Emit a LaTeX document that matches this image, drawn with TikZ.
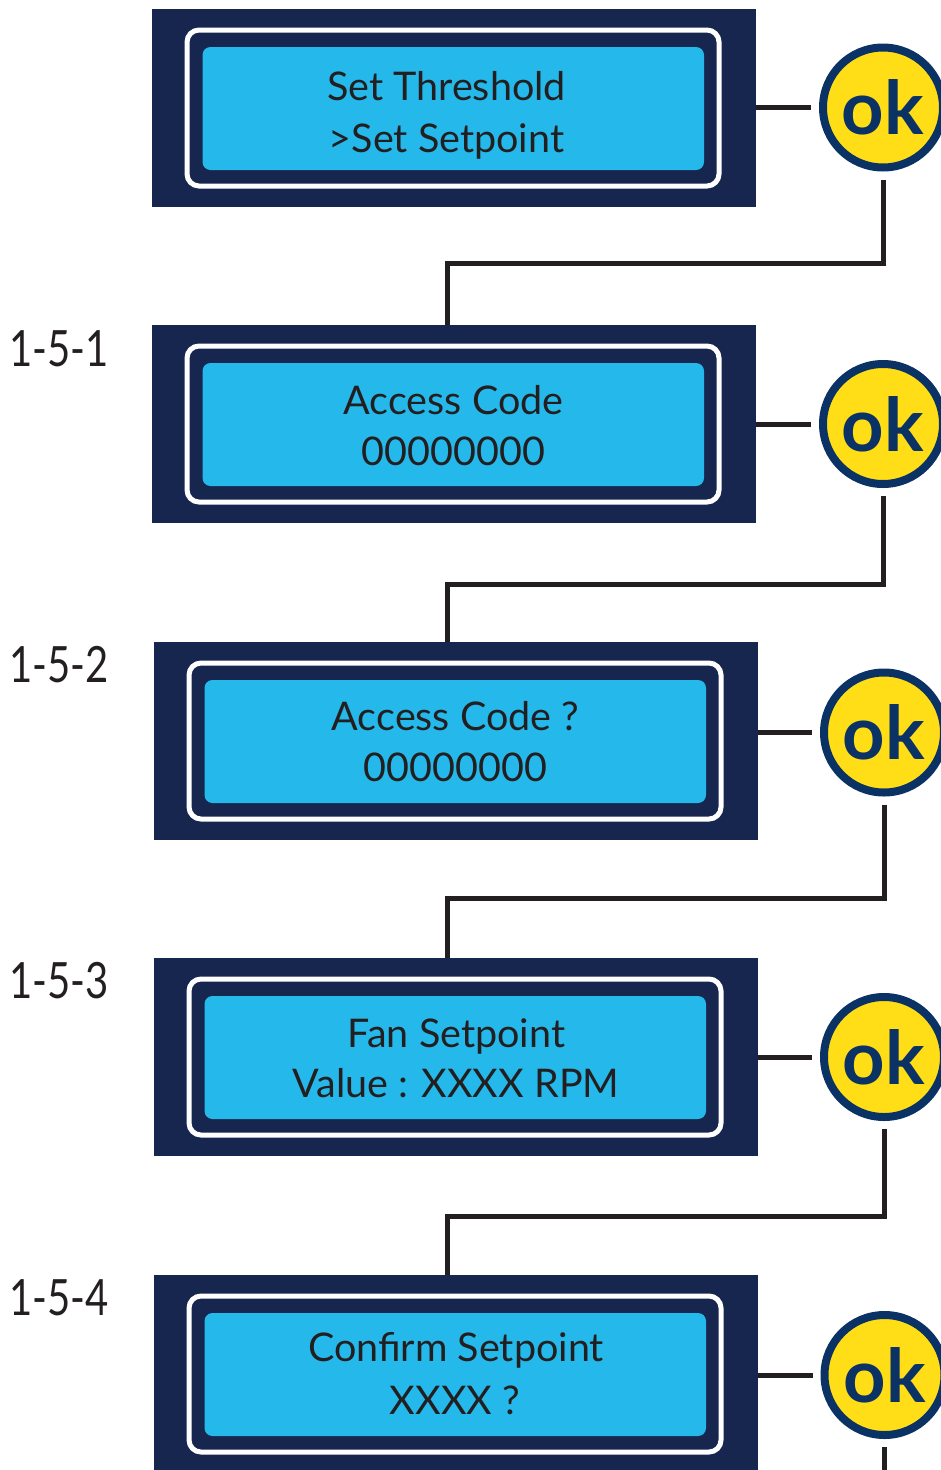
\documentclass[tikz,border=0pt]{standalone}
\usepackage{fontspec}
\setmainfont{Lato}
\newfontfamily\lcdfont{Lato}
\newfontfamily\labfont{Lato}[FakeStretch=0.80]
\newfontfamily\okfont{Lato}[BoldFont={* Bold}]
\definecolor{navy}{HTML}{16264F}
\definecolor{lcdblue}{HTML}{25B9EB}
\definecolor{okyellow}{HTML}{FFDE17}
\definecolor{okblue}{HTML}{0B3264}
\definecolor{ink}{HTML}{231F20}
\tikzset{
  screen/.style={rectangle, fill=navy, minimum width=604pt, minimum height=198pt, inner sep=0pt, outer sep=0pt},
  frame/.style={rectangle, draw=white, fill=navy, line width=5pt, rounded corners=12pt, minimum width=532pt, minimum height=156pt, inner sep=0pt},
  lcd/.style={rectangle, fill=lcdblue, rounded corners=8pt, minimum width=501.5pt, minimum height=123pt, inner sep=0pt},
  txt/.style={anchor=base, inner sep=0pt, text=ink, font=\lcdfont\fontsize{39.5}{39.5}\selectfont},
  lab/.style={anchor=base west, inner sep=0pt, text=ink, font=\labfont\fontsize{50}{50}\selectfont},
  okbtn/.style={circle, draw=okblue, fill=okyellow, line width=8pt, minimum size=120pt, inner sep=0pt, text=okblue, font=\okfont\bfseries\fontsize{74}{74}\selectfont},
  conn/.style={draw=ink, line width=5pt}
}
\begin{document}
\begin{tikzpicture}[x=1pt,y=-1pt]
\useasboundingbox (0,0) rectangle (941,1470);
\clip (0,0) rectangle (941,1470);
% screens
\node[screen] (s1) at (454,108) {};
\node[frame] (f1) at (453,108) {};
\node[lcd] (d1) at (453.25,108.5) {};
\node[txt] (t1a) at (446.5,100) {Set Threshold};
\node[txt] (t1b) at (446.5,152) {>Set Setpoint};

\node[screen] (s2) at (454,424) {};
\node[frame] (f2) at (453,424) {};
\node[lcd] (d2) at (453.25,424.5) {};
\node[txt] (t2a) at (453.5,414) {Access Code};
\node[txt] (t2b) at (453.5,465) {00000000};

\node[screen] (s3) at (456,741) {};
\node[frame] (f3) at (455,741) {};
\node[lcd] (d3) at (455.25,741.5) {};
\node[txt] (t3a) at (455.5,730) {Access Code ?};
\node[txt] (t3b) at (455.5,781) {00000000};

\node[screen] (s4) at (456,1057) {};
\node[frame] (f4) at (455,1057) {};
\node[lcd] (d4) at (455.25,1057.5) {};
\node[txt] (t4a) at (456.5,1047.5) {Fan Setpoint};
\node[txt] (t4b) at (456,1097.5) {Value : XXXX RPM};

\node[screen] (s5) at (456,1374) {};
\node[frame] (f5) at (455,1374) {};
\node[lcd] (d5) at (455.25,1374.5) {};
\node[txt] (t5a) at (456,1361.5) {Confirm Setpoint};
\node[txt] (t5b) at (455,1414) {XXXX ?};

% labels
\node[lab] (l1) at (9,366) {1-5-1};
\node[lab] (l2) at (9,682) {1-5-2};
\node[lab] (l3) at (9,998) {1-5-3};
\node[lab] (l4) at (9,1315) {1-5-4};

% ok buttons
\node[okbtn] (ok1) at (883,107.5) {ok};
\node[okbtn] (ok2) at (883,424) {ok};
\node[okbtn] (ok3) at (884,732.5) {ok};
\node[okbtn] (ok4) at (884,1057) {ok};
\node[okbtn] (ok5) at (884.5,1375) {ok};

% bends
\coordinate (b1) at (447.5,263);
\coordinate (b2) at (447.5,584);
\coordinate (b3) at (447.5,898);
\coordinate (b4) at (447.5,1216);
\coordinate (bend) at (884.5,1475);

% horizontal links screen -> ok
\draw[conn, shorten >=8pt] (ok1.west -| s1.east) -- (ok1.west);
\draw[conn, shorten >=8pt] (ok2.west -| s2.east) -- (ok2.west);
\draw[conn, shorten >=8pt] (ok3.west -| s3.east) -- (ok3.west);
\draw[conn, shorten >=8pt] (ok4.west -| s4.east) -- (ok4.west);
\draw[conn, shorten >=8pt] (ok5.west -| s5.east) -- (ok5.west);

% ok -> next screen
\draw[conn, shorten <=8pt] (ok1.south) |- (b1) -- (b1 |- s2.north);
\draw[conn, shorten <=8pt] (ok2.south) |- (b2) -- (b2 |- s3.north);
\draw[conn, shorten <=8pt] (ok3.south) |- (b3) -- (b3 |- s4.north);
\draw[conn, shorten <=8pt] (ok4.south) |- (b4) -- (b4 |- s5.north);
\draw[conn, shorten <=8pt] (ok5.south) -- (bend);
\end{tikzpicture}
\end{document}
